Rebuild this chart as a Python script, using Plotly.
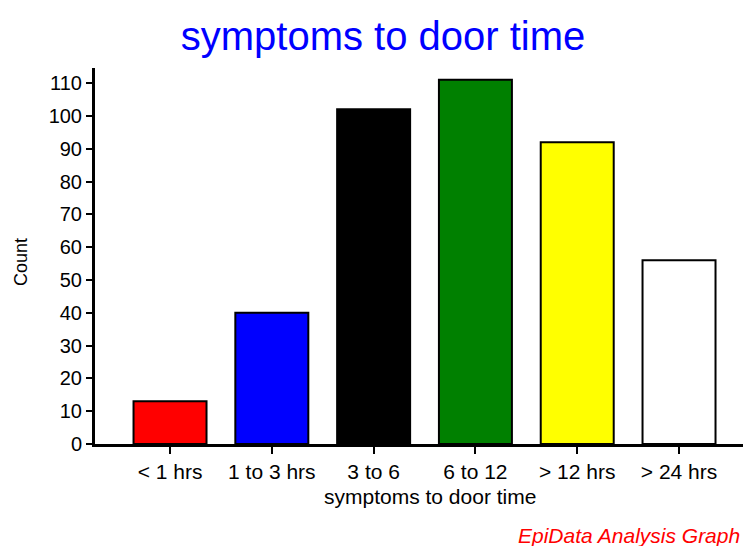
import plotly.graph_objects as go

categories = ["< 1 hrs", "1 to 3 hrs", "3 to 6", "6 to 12", "> 12 hrs", "> 24 hrs"]
counts = [13, 40, 102, 111, 92, 56]
bar_colors = ["#FF0000", "#0000FF", "#000000", "#008000", "#FFFF00", "#FFFFFF"]
y_ticks = [0, 10, 20, 30, 40, 50, 60, 70, 80, 90, 100, 110]

title_text = "symptoms to door time"
x_title = "symptoms to door time"
y_title = "Count"
footer = "EpiData Analysis Graph"

FONT = "Liberation Sans, Arial, sans-serif"

W, H = 751, 546
L, R, T, B = 87, 8, 60, 110
PW, PH = W - L - R, H - T - B


def px(x):
    return (x - L) / PW


def py(y):
    return (H - B - y) / PH


fig = go.Figure()
fig.add_trace(go.Bar(
    x=list(range(len(categories))),
    y=counts,
    width=0.717,
    marker=dict(color=bar_colors, line=dict(color="#000000", width=2)),
    hoverinfo="skip",
))

fig.update_layout(
    width=W, height=H,
    margin=dict(l=L, r=R, t=T, b=B),
    paper_bgcolor="white", plot_bgcolor="white",
    showlegend=False,
    font=dict(family=FONT, color="black", size=20),
    title=dict(text=title_text, font=dict(family=FONT, size=40, color="#0000FF"),
               x=375 / W, xref="container", xanchor="center",
               y=1 - 28 / H, yref="container", yanchor="middle"),
)
fig.update_xaxes(
    range=[-0.737, 5.707],
    tickmode="array", tickvals=list(range(len(categories))), ticktext=categories,
    showline=True, linecolor="black", linewidth=3,
    ticks="outside", ticklen=7, tickwidth=2, tickcolor="black",
    showgrid=False, zeroline=False,
    tickfont=dict(size=21, family=FONT, color="black"),
)
fig.update_yaxes(
    range=[0, 114.6],
    tickmode="array", tickvals=y_ticks,
    showline=True, linecolor="black", linewidth=3,
    ticks="outside", ticklen=6, tickwidth=2, tickcolor="black",
    showgrid=False, zeroline=False,
    tickfont=dict(size=20, family=FONT, color="black"),
)

fig.add_annotation(text=x_title, xref="paper", yref="paper",
                   x=px(422), y=py(488),
                   xanchor="center", yanchor="middle", showarrow=False,
                   font=dict(size=21, family=FONT, color="black"))
fig.add_annotation(text=y_title, xref="paper", yref="paper", textangle=-90,
                   x=px(13), y=py(254),
                   xanchor="center", yanchor="middle", showarrow=False,
                   font=dict(size=18, family=FONT, color="black"))
fig.add_annotation(text="<i>" + footer + "</i>", xref="paper", yref="paper",
                   x=px(508), y=py(527),
                   xanchor="left", yanchor="middle", showarrow=False,
                   font=dict(size=21, family=FONT, color="#FF0000"))

fig.write_html("out.html")
